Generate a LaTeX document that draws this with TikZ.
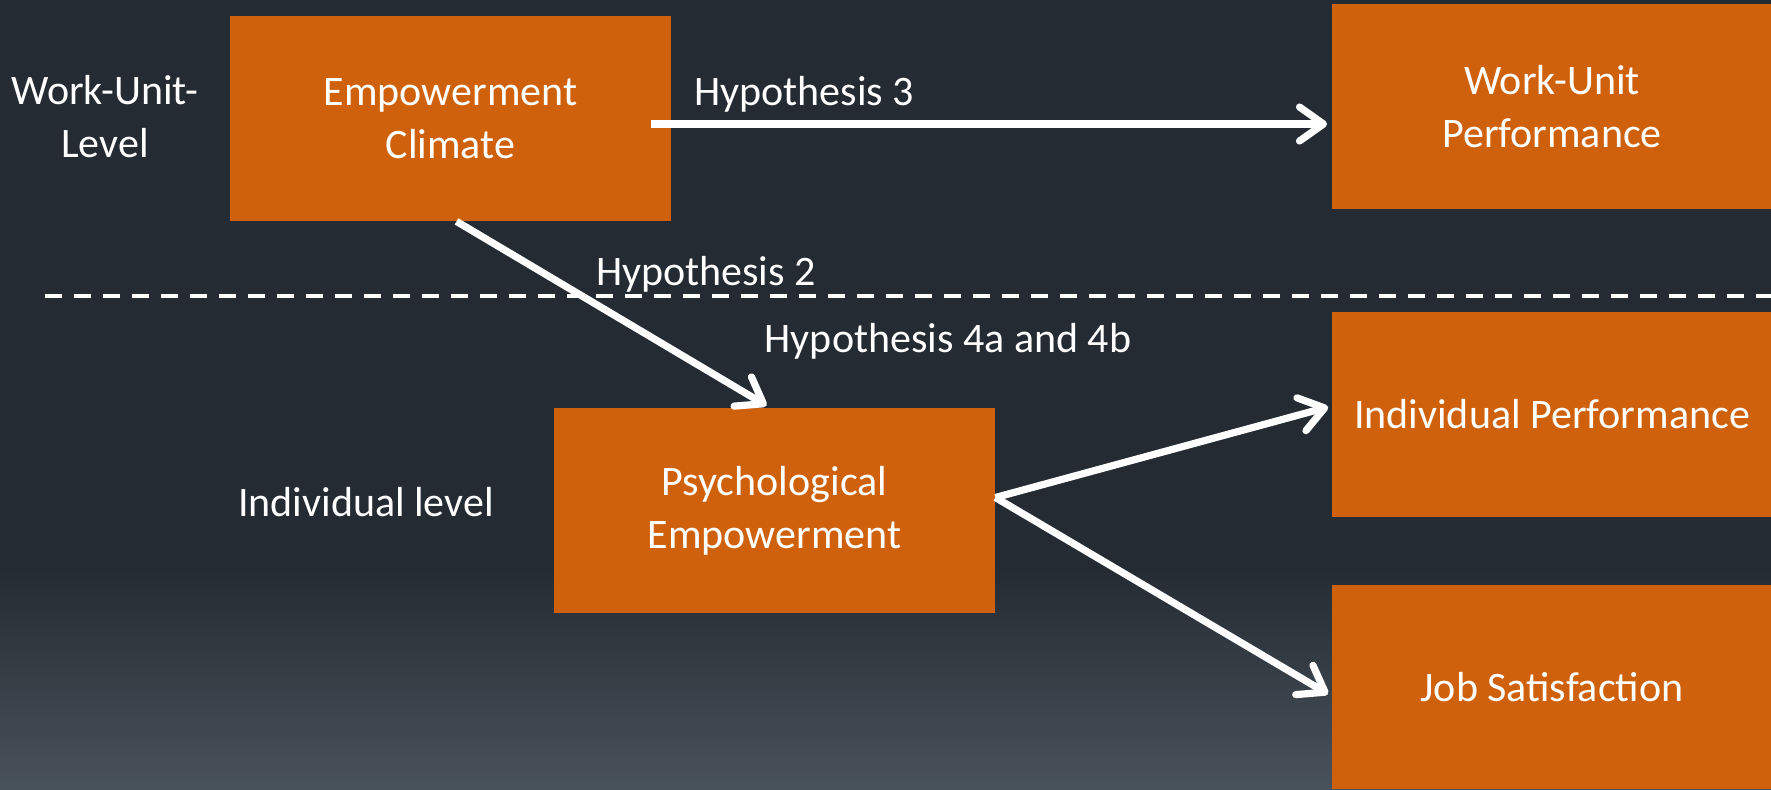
\documentclass[tikz,border=0pt]{standalone}
\usepackage{fontspec}
\setmainfont{Carlito}
\usetikzlibrary{arrows.meta,calc}
\definecolor{bgtop}{HTML}{252B33}
\definecolor{bgbot}{HTML}{48525B}
\definecolor{boxor}{HTML}{D0610C}
\tikzset{
  box/.style={fill=boxor, draw=none, minimum width=220.5pt, minimum height=102.5pt, inner sep=0pt, align=center, text=white, font=\fontsize{21}{26.5}\selectfont},
  lbl/.style={text=white, align=center, inner sep=0pt, font=\fontsize{21}{26.5}\selectfont},
  conn/.style={draw=white, line width=3.6pt, -{Straight Barb[length=12pt,width=17pt,line cap=round,line join=round]}},
  divider/.style={draw=white, line width=2.3pt, dash pattern=on 8.5pt off 6pt}
}
\begin{document}
\begin{tikzpicture}[x=0.5pt,y=-0.5pt]
\useasboundingbox (0,0) rectangle (1771,789);
\fill[bgtop] (0,0) rectangle (1771,570);
\shade[top color=bgtop, bottom color=bgbot] (0,569) rectangle (1771,789);
% dashed divider
\coordinate (dl) at (45,296);
\coordinate (dr) at (1771,296);
\draw[divider] (dl) -- (dr);
% boxes
\node[box] (ec) at (450.5,118.5) {Empowerment\\Climate};
\node[box] (wup) at (1552,106.5) {Work-Unit\\Performance};
\node[box] (ip) at (1552,414.5) {Individual Performance};
\node[box, minimum height=102pt] (js) at (1552,687) {Job Satisfaction};
\node[box] (pe) at (774.5,510.5) {Psychological\\Empowerment};
% labels
\node[lbl] (lwu) at (105,117) {Work-Unit-\\Level};
\node[lbl] (lind) at (366,502) {Individual level};
\node[lbl, anchor=west] (h3) at (694,94) {Hypothesis 3};
\node[lbl] (h2) at (706,274) {Hypothesis 2};
\node[lbl] (h4) at (948,341) {Hypothesis 4a and 4b};
% connectors
\draw[conn] ($(ec.east)+(-20,5.5)$) -- ($(wup.west)+(-4,17.5)$);
\draw[conn] ($(ec.south)+(6,0)$) -- ($(pe.north)+(-8,-2)$);
\draw[conn] ($(pe.east)+(0,-13)$) -- ($(ip.west)+(-3,-7.5)$);
\draw[conn] ($(pe.east)+(0,-13)$) -- ($(js.west)+(-3,7)$);
\end{tikzpicture}
\end{document}
